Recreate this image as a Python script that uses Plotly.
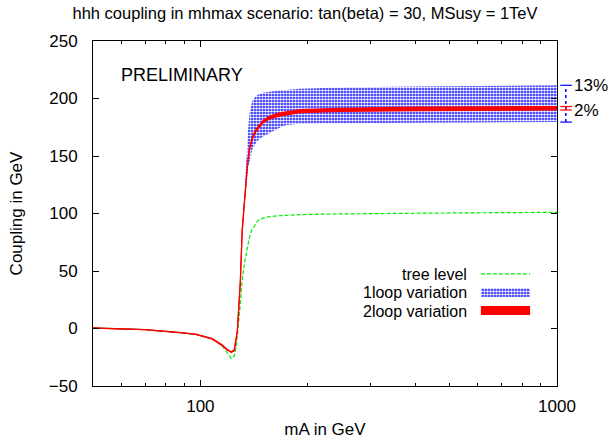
import plotly.graph_objects as go

# Tree-level trilinear coupling vs mA (GeV)
m_tree = [50, 70, 87, 97, 108, 115, 119, 122, 124.5, 126, 128.7, 131, 133, 135,
          137, 139, 142, 145, 150, 155, 165, 175, 190, 220, 300, 500, 1000]
c_tree = [0.5, -1, -3.5, -5, -9, -15, -21, -26, -24, -16.5, 13, 42, 57, 68,
          78, 85, 90, 94, 96, 97, 98, 98.5, 99, 99.5, 100, 100.5, 101]

# Loop-corrected couplings on a common mA grid
m_loop = [50, 70, 87, 97, 108, 115, 119, 122, 124.5, 127, 129.5, 131, 133, 134.5,
          136, 137.5, 140, 143, 146.5, 150, 156, 165, 174, 190, 245, 400, 1000]
c_2loop_hi = [0.6, -0.9, -3.3, -4.8, -8.7, -14.2, -18.2, -20.2, -18.6, -1.5, 43, 86, 112, 131,
              148, 158, 167, 173, 177.5, 181, 184.5, 187, 188.3, 190.3, 191.5, 192.5, 193]
c_2loop_lo = [0.4, -1.1, -3.7, -5.2, -9.3, -14.8, -18.8, -20.8, -19.4, -2.5, 41, 84, 110, 129,
              146, 156, 165, 171, 175.5, 179, 182, 184.5, 185.7, 187.7, 188.7, 189.5, 190]
c_1loop_hi = [1, -0.5, -3, -4.5, -8.5, -14, -18, -20, -18, -1, 44, 88, 118, 146,
              172, 188, 198, 202, 204, 205, 206, 207, 207.5, 208.5, 209.5, 210.5, 211.5]
c_1loop_lo = [0, -1.5, -4, -5.5, -9.5, -15, -19, -21, -20, -3, 40, 82, 108, 128,
              140, 146, 156, 161, 165, 167, 170, 174, 177, 178, 178.5, 179, 179.5]

# Relative size of the variations at large mA
var_labels = ["13%", "2%"]

series_names = ["tree level", "1loop variation", "2loop variation"]

BLUE = "#0000ff"
RED = "#ff0000"
GREEN = "#00ee00"
FONT = "Liberation Sans, Arial, sans-serif"

band_pattern = dict(shape=".", fgcolor="white", bgcolor=BLUE, size=3, solidity=0.6,
                    fillmode="replace")

fig = go.Figure()

# 1-loop band
fig.add_trace(go.Scatter(x=m_loop, y=c_1loop_lo, mode="lines",
                         line=dict(color=BLUE, width=0), showlegend=False,
                         hoverinfo="skip"))
fig.add_trace(go.Scatter(x=m_loop, y=c_1loop_hi, mode="lines", fill="tonexty",
                         fillpattern=band_pattern, fillcolor=BLUE,
                         line=dict(color=BLUE, width=0), showlegend=False,
                         name=series_names[1]))

# tree level
fig.add_trace(go.Scatter(x=m_tree, y=c_tree, mode="lines", name=series_names[0],
                         line=dict(color=GREEN, width=1.2, dash="4px,2px"),
                         showlegend=False))

# 2-loop band
fig.add_trace(go.Scatter(x=m_loop, y=c_2loop_lo, mode="lines",
                         line=dict(color=RED, width=1.2), showlegend=False,
                         hoverinfo="skip"))
fig.add_trace(go.Scatter(x=m_loop, y=c_2loop_hi, mode="lines", fill="tonexty",
                         fillcolor=RED, name=series_names[2],
                         line=dict(color=RED, width=1.2), showlegend=False))

# Hand-drawn key (text on the left, swatch on the right) on an overlay axis
fig.add_trace(go.Scatter(x=[0.836, 0.942], y=[0.325, 0.325], mode="lines",
                         xaxis="x2", yaxis="y2", showlegend=False, hoverinfo="skip",
                         line=dict(color=GREEN, width=1.2, dash="4px,2px")))
fig.add_trace(go.Scatter(x=[0.836, 0.942, 0.942, 0.836, 0.836],
                         y=[0.258, 0.258, 0.284, 0.284, 0.258], mode="lines",
                         fill="toself", fillpattern=band_pattern, fillcolor=BLUE,
                         line=dict(width=0, color=BLUE), xaxis="x2", yaxis="y2",
                         showlegend=False, hoverinfo="skip"))
fig.add_trace(go.Scatter(x=[0.836, 0.942, 0.942, 0.836, 0.836],
                         y=[0.206, 0.206, 0.232, 0.232, 0.206], mode="lines",
                         fill="toself", fillcolor=RED, line=dict(width=0, color=RED),
                         xaxis="x2", yaxis="y2", showlegend=False, hoverinfo="skip"))

annotations = []
for name, yk in zip(series_names, [0.322, 0.270, 0.217]):
    annotations.append(dict(text=name, xref="paper", yref="paper", x=0.808, y=yk,
                            xanchor="right", yanchor="middle", showarrow=False,
                            borderpad=0, font=dict(size=16, color="black", family=FONT)))
annotations.append(dict(text="PRELIMINARY", xref="paper", yref="paper", x=0.055, y=0.901,
                        xanchor="left", yanchor="middle", showarrow=False,
                        font=dict(size=18, color="black", family=FONT)))

# Variation markers beside the right axis
hi_end, lo_end = c_1loop_hi[-1], c_1loop_lo[-1]
r_hi, r_lo = c_2loop_hi[-1], c_2loop_lo[-1]
r_mid = (r_hi + r_lo) / 2
shapes = [
    dict(type="line", xref="paper", yref="y", x0=1.019, x1=1.019, y0=lo_end, y1=hi_end,
         line=dict(color=BLUE, width=1.5, dash="dot")),
    dict(type="line", xref="paper", yref="y", x0=1.007, x1=1.032, y0=hi_end, y1=hi_end,
         line=dict(color=BLUE, width=1.2)),
    dict(type="line", xref="paper", yref="y", x0=1.007, x1=1.032, y0=lo_end, y1=lo_end,
         line=dict(color=BLUE, width=1.2)),
    dict(type="line", xref="paper", yref="y", x0=1.019, x1=1.019, y0=r_lo, y1=r_hi,
         line=dict(color=RED, width=1.2)),
    dict(type="line", xref="paper", yref="y", x0=1.007, x1=1.032, y0=r_hi, y1=r_hi,
         line=dict(color=RED, width=1.2)),
    dict(type="line", xref="paper", yref="y", x0=1.007, x1=1.032, y0=r_lo, y1=r_lo,
         line=dict(color=RED, width=1.2)),
]
annotations.append(dict(text=var_labels[0], xref="paper", yref="y", x=1.034, y=hi_end,
                        xanchor="left", yanchor="middle", showarrow=False, borderpad=0,
                        font=dict(size=17, color="black", family=FONT)))
annotations.append(dict(text=var_labels[1], xref="paper", yref="y", x=1.034, y=r_mid - 1.5,
                        xanchor="left", yanchor="middle", showarrow=False, borderpad=0,
                        font=dict(size=17, color="black", family=FONT)))

fig.update_layout(
    width=610, height=440,
    margin=dict(l=93, r=53, t=41, b=54, autoexpand=False),
    paper_bgcolor="white", plot_bgcolor="white",
    font=dict(family=FONT, size=17, color="black"),
    title=dict(text="hhh coupling in mhmax scenario: tan(beta) = 30, MSusy = 1TeV",
               x=0.5, xanchor="center", y=0.97, yanchor="middle",
               font=dict(size=16.5, family=FONT, color="black")),
    xaxis=dict(type="log", range=[1.69897, 3], tickvals=[100, 1000],
               ticktext=["100", "1000"], ticks="inside", ticklen=6, automargin=False,
               tickcolor="black", mirror="ticks", showline=True, linecolor="black",
               linewidth=1, showgrid=False, zeroline=False, ticklabelstandoff=5,
               minor=dict(tickvals=[60, 70, 80, 90, 200, 300, 400, 500, 600, 700, 800, 900],
                          ticks="inside", ticklen=3, tickcolor="black", showgrid=False),
               title=dict(text="mA in GeV", standoff=7, font=dict(size=17))),
    yaxis=dict(range=[-50, 250], dtick=50, ticks="inside", ticklen=6, tickcolor="black",
               mirror="ticks", showline=True, linecolor="black", linewidth=1,
               automargin=False,
               showgrid=False, zeroline=False, ticklabelstandoff=11,
               title=dict(text="Coupling in GeV", standoff=21, font=dict(size=17))),
    xaxis2=dict(overlaying="x", range=[0, 1], visible=False, fixedrange=True),
    yaxis2=dict(overlaying="y", range=[0, 1], visible=False, fixedrange=True),
    shapes=shapes,
    annotations=annotations,
    showlegend=False,
)

fig.write_html("out.html")
